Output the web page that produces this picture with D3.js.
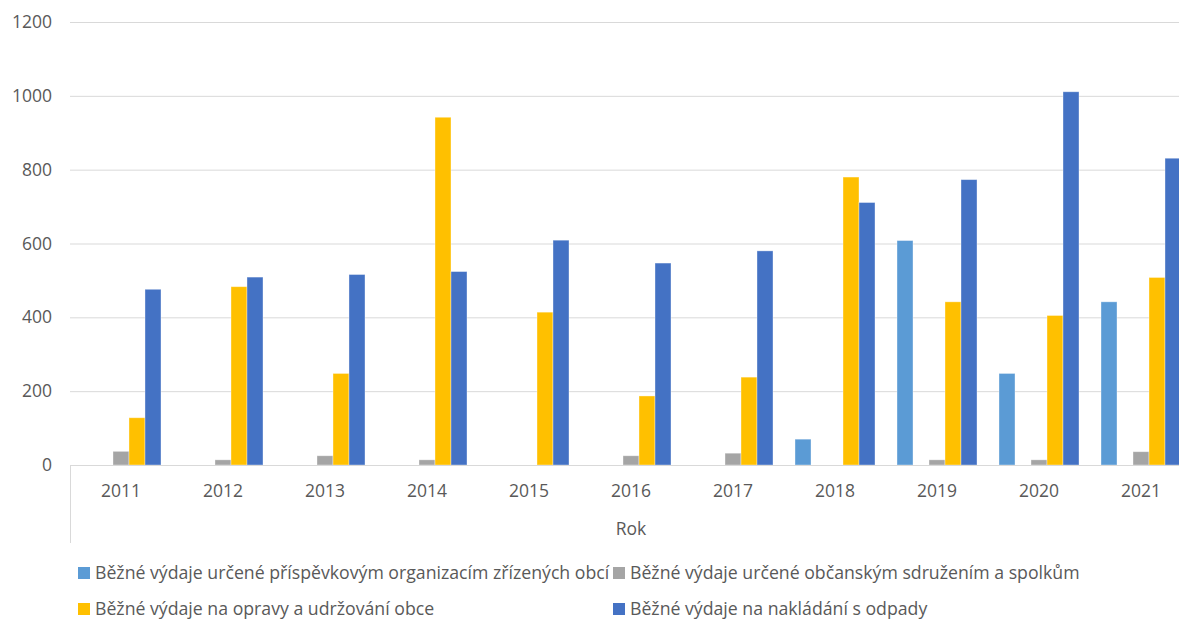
<!DOCTYPE html>
<html>
<head>
<meta charset="utf-8">
<script src="https://cdn.jsdelivr.net/npm/d3@7"></script>
<style>
html,body{margin:0;padding:0;background:#fff;}
svg{display:block;font-family:"Open Sans",sans-serif;}
</style>
</head>
<body>
<svg id="chart" width="1179" height="619"></svg>
<script>
const years = ["2011","2012","2013","2014","2015","2016","2017","2018","2019","2020","2021"];
const seriesNames = [
  "Běžné výdaje určené příspěvkovým organizacím zřízených obcí",
  "Běžné výdaje určené občanským sdružením a spolkům",
  "Běžné výdaje na opravy a udržování obce",
  "Běžné výdaje na nakládání s odpady"
];
const seriesColors = ["#5B9BD5","#A5A5A5","#FFC000","#4472C4"];
// slot in the cluster (slot 1 is an empty series in the original)
const seriesSlots = [0, 2, 3, 4];
const prispevkove = [0, 0, 0, 0, 0, 0, 0, 70, 608, 248, 442];
const spolky      = [37, 14, 25, 14, 0, 25, 32, 0, 14, 14, 36];
const opravy      = [128, 483, 248, 942, 414, 187, 238, 780, 442, 405, 508];
const odpady      = [476, 509, 516, 524, 609, 547, 580, 711, 773, 1011, 831];
const seriesValues = [prispevkove, spolky, opravy, odpady];
const yTicks = [0, 200, 400, 600, 800, 1000, 1200];
const xAxisTitle = "Rok";

const svg = d3.select("#chart");
const pLeft = 70, pRight = 1192, pTop = 22, pBottom = 465;

const x = d3.scaleBand().domain(years).range([pLeft, pRight])
  .paddingInner(0.2157).paddingOuter(0.1078);
const slot = d3.scaleBand().domain([0,1,2,3,4]).range([0, x.bandwidth()]);
const y = d3.scaleLinear().domain([0, 1200]).range([pBottom, pTop]);

// gridlines
svg.append("g").selectAll("line").data(yTicks.filter(d => d > 0)).join("line")
  .attr("x1", pLeft).attr("x2", 1179)
  .attr("y1", d => y(d) + 0.5).attr("y2", d => y(d) + 0.5)
  .attr("stroke", "#d9d9d9").attr("stroke-width", 1);

// y labels
svg.append("g").selectAll("text").data(yTicks).join("text")
  .attr("x", 52).attr("y", d => y(d)).attr("dy", "0.35em")
  .attr("text-anchor", "end")
  .attr("font-size", 17.5).attr("fill", "#595959")
  .text(d => d);

// bars
seriesValues.forEach((vals, si) => {
  svg.append("g").selectAll("rect").data(years.map((yr, i) => ({yr, v: vals[i]})).filter(d => d.v > 0))
    .join("rect")
    .attr("x", d => x(d.yr) + slot(seriesSlots[si]))
    .attr("width", slot.bandwidth())
    .attr("y", d => y(d.v))
    .attr("height", d => y(0) - y(d.v))
    .attr("fill", seriesColors[si])
    .attr("stroke", "#ffffff").attr("stroke-opacity", 0.45).attr("stroke-width", 0.8);
});

// x axis line
svg.append("line").attr("x1", pLeft).attr("x2", 1179)
  .attr("y1", pBottom + 0.5).attr("y2", pBottom + 0.5)
  .attr("stroke", "#d9d9d9").attr("stroke-width", 1);
svg.append("line").attr("x1", pLeft + 0.5).attr("x2", pLeft + 0.5)
  .attr("y1", pBottom).attr("y2", 543)
  .attr("stroke", "#d9d9d9").attr("stroke-width", 1);

// year labels
svg.append("g").selectAll("text").data(years).join("text")
  .attr("x", d => x(d) + x.bandwidth() / 2).attr("y", 491).attr("dy", "0.35em")
  .attr("text-anchor", "middle")
  .attr("font-size", 17.5).attr("fill", "#595959")
  .text(d => d);

// axis title
svg.append("text").attr("x", (pLeft + pRight) / 2).attr("y", 529).attr("dy", "0.35em")
  .attr("text-anchor", "middle").attr("font-size", 17.5).attr("fill", "#595959")
  .text(xAxisTitle);

// legend
const legendPos = [[78, 573], [613, 573], [78, 609], [613, 609]];
seriesNames.forEach((name, i) => {
  const [lx, ly] = legendPos[i];
  svg.append("rect").attr("x", lx).attr("y", ly - 6).attr("width", 12).attr("height", 12)
    .attr("fill", seriesColors[i]);
  svg.append("text").attr("x", lx + 17).attr("y", ly).attr("dy", "0.35em")
    .attr("font-size", 17.7).attr("fill", "#595959").text(name);
});
</script>
</body>
</html>
